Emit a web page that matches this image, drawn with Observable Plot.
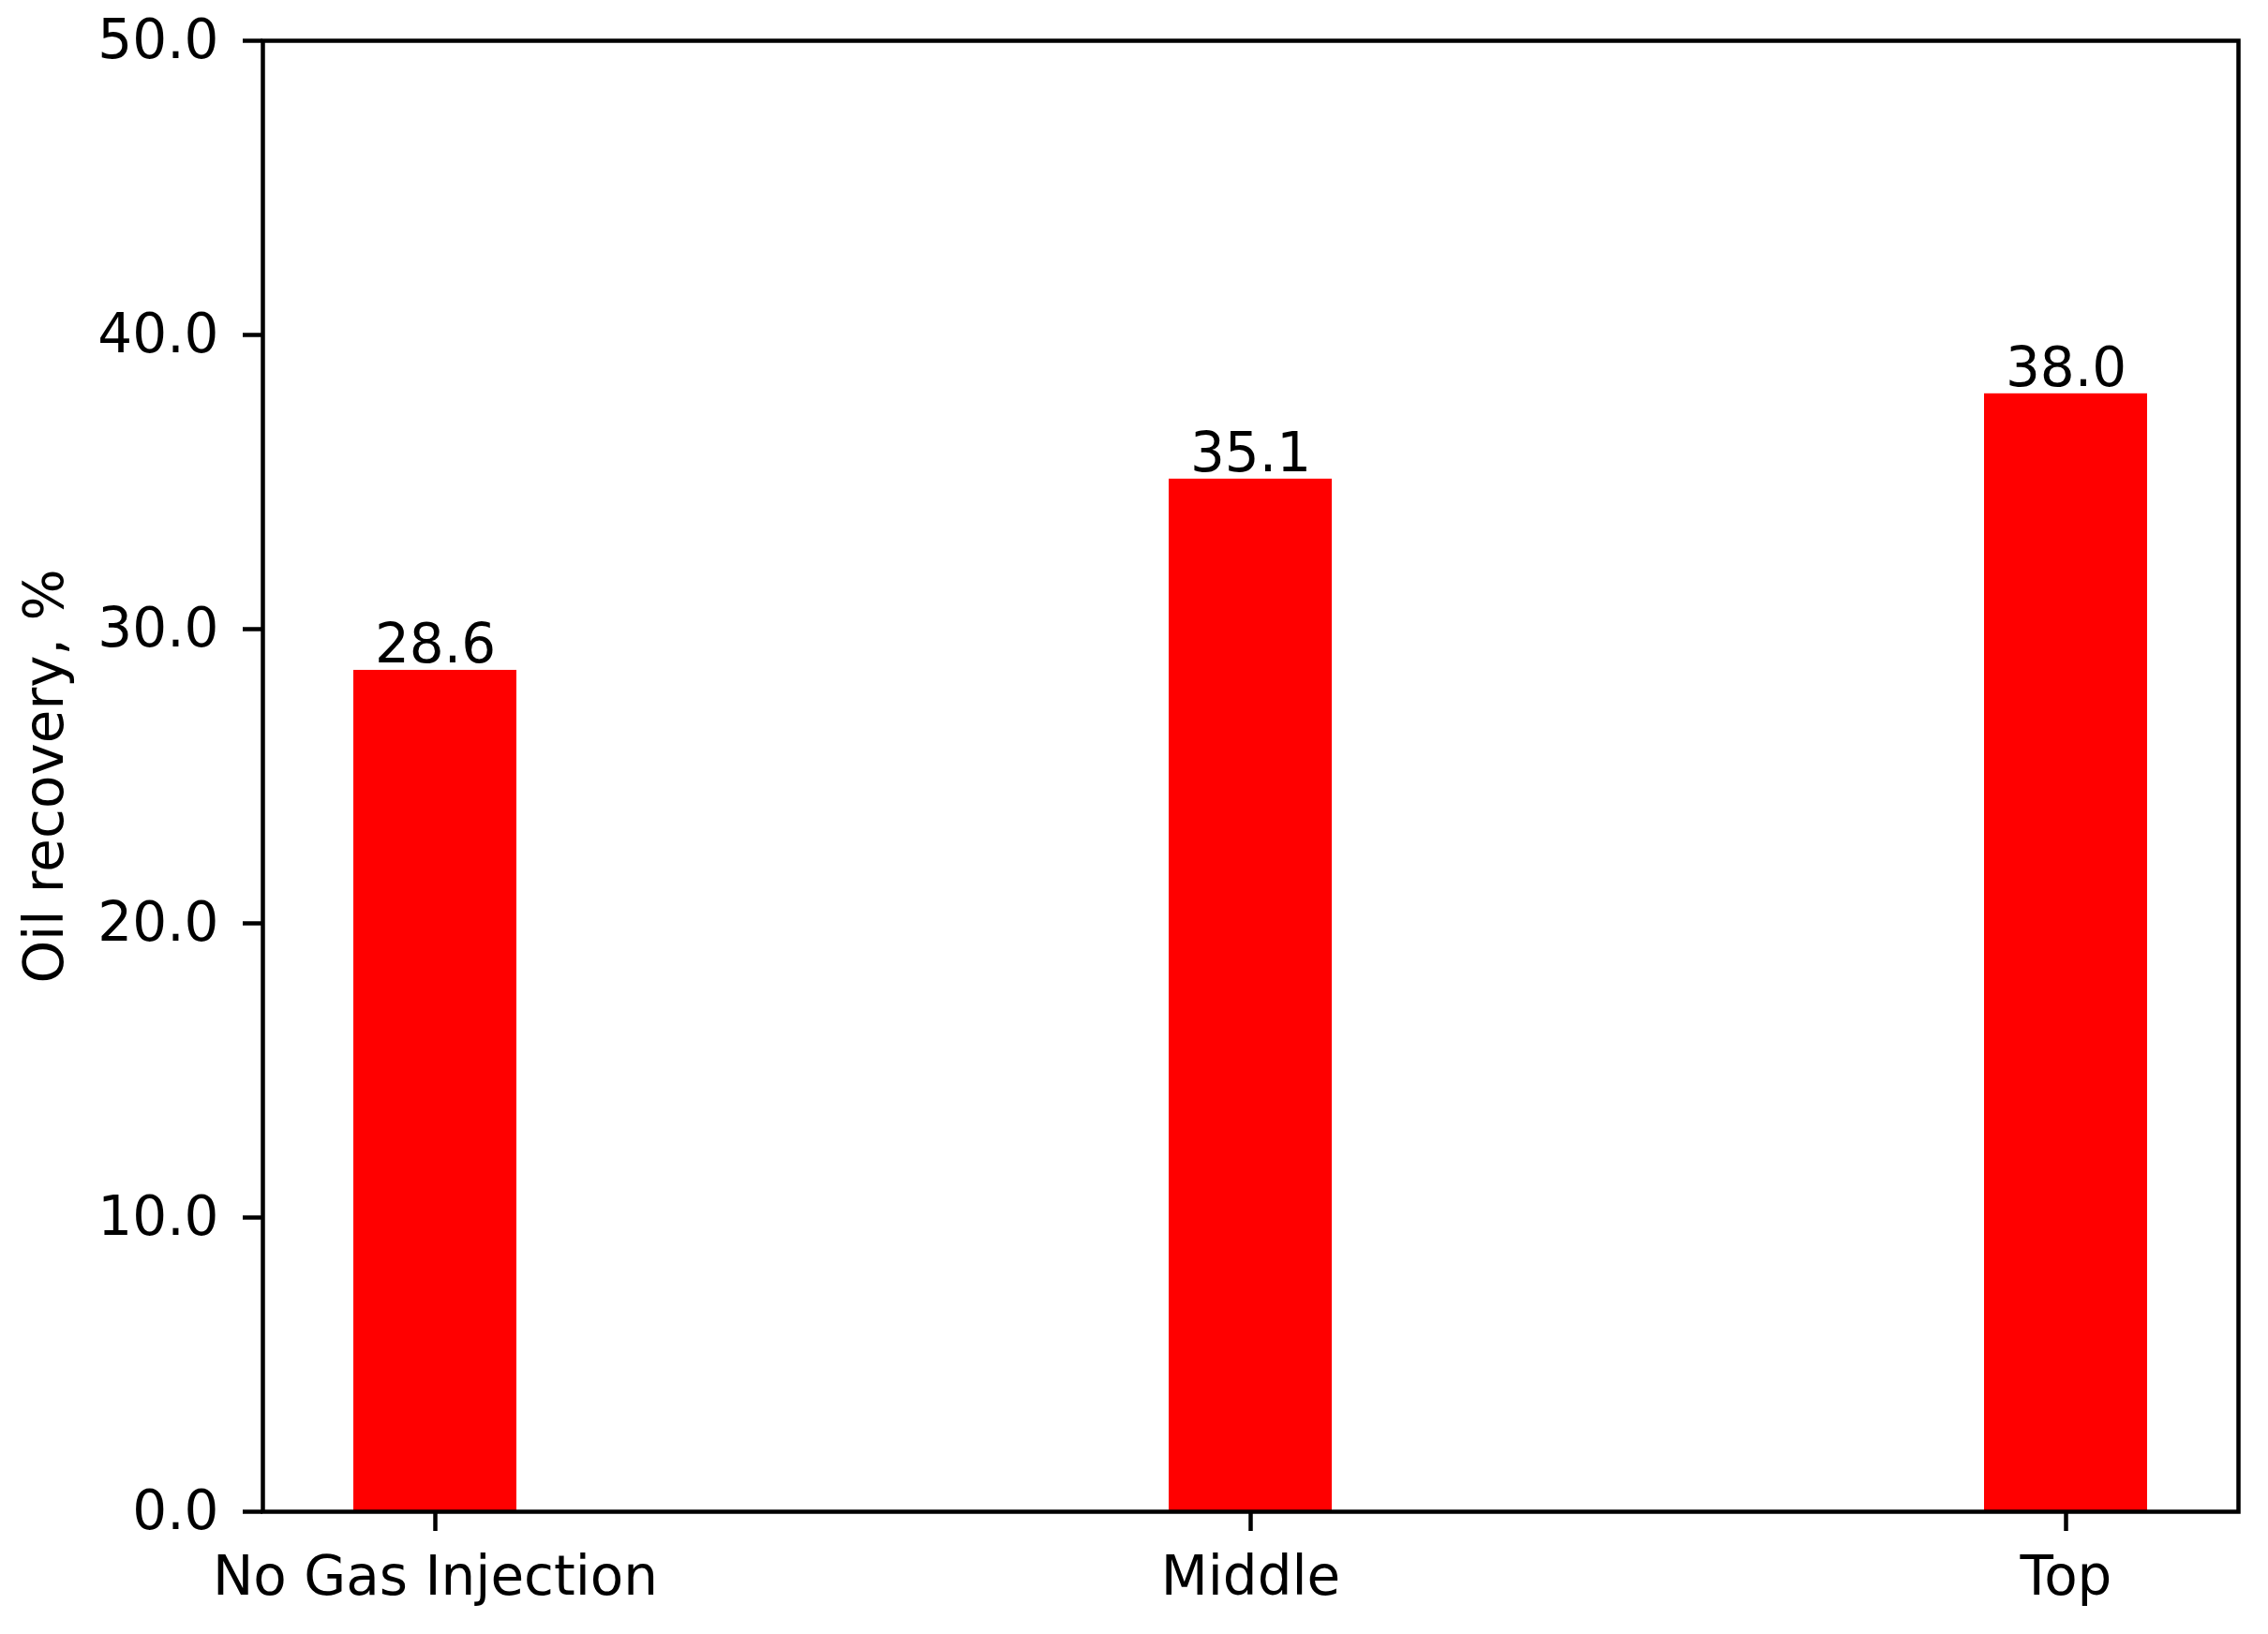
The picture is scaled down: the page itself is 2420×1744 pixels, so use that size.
<!DOCTYPE html>
<html>
<head>
<meta charset="utf-8">
<script src="https://cdn.jsdelivr.net/npm/d3@7"></script>
<script src="https://cdn.jsdelivr.net/npm/@observablehq/plot@0.6"></script>
<style>
  html, body { margin: 0; padding: 0; background: #fff; }
  svg { display: block; }
</style>
</head>
<body>
<div id="chart"></div>
<script>
const categories = ["No Gas Injection", "Middle", "Top"];
const recovery = [28.6, 35.1, 38.0];
const yTicks = [0, 10, 20, 30, 40, 50];
const yLabel = "Oil recovery, %";

const data = categories.map((c, i) => ({category: c, value: recovery[i]}));
const font = "DejaVu Sans, sans-serif";
const fs = 58;

const chart = Plot.plot({
  width: 2420,
  height: 1744,
  marginLeft: 280,
  marginRight: 32,
  marginTop: 43,
  marginBottom: 131,
  style: {fontFamily: font, background: "#fff", color: "#000"},
  x: {type: "band", domain: categories, paddingInner: 0.8, paddingOuter: 0.111, align: 0.5},
  y: {domain: [0, 50]},
  marks: [
    Plot.barY(data, {x: "category", y: "value", fill: "#ff0000"}),
    Plot.text(data, {
      x: "category", y: "value", text: d => d.value.toFixed(1),
      lineAnchor: "bottom", dy: -8, fontSize: fs, fill: "#000", fontFamily: font
    }),
    Plot.axisY({
      ticks: yTicks, tickFormat: d => d.toFixed(1), tickSize: 21, tickPadding: 26,
      fontSize: fs, strokeWidth: 4.5, stroke: "#000", fill: "#000", label: null
    }),
    Plot.axisX({
      tickSize: 21, tickPadding: 26, fontSize: fs, strokeWidth: 4.5,
      stroke: "#000", fill: "#000", label: null
    }),
    Plot.text([yLabel], {
      frameAnchor: "left", text: d => d, rotate: -90, dx: -232,
      textAnchor: "middle", lineAnchor: "middle",
      fontSize: fs, fill: "#000", fontFamily: font
    }),
    Plot.frame({stroke: "#000", strokeWidth: 4.5})
  ]
});
document.getElementById("chart").appendChild(chart);
</script>
</body>
</html>
